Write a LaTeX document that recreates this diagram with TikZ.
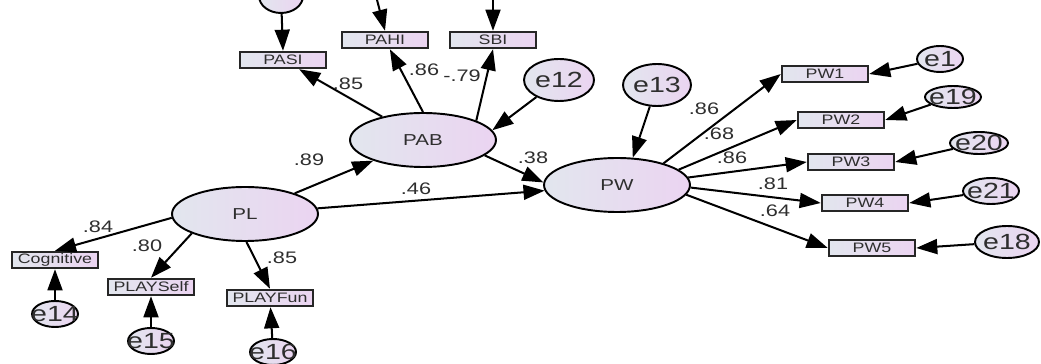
\documentclass[tikz,border=0pt]{standalone}
\usepackage{fontspec}
\setmainfont{Liberation Sans}[FakeStretch=1.3]
\usetikzlibrary{arrows.meta, shapes.geometric}

\definecolor{fillleft}{HTML}{E2E6EE}
\definecolor{fillright}{HTML}{EBD4F1}
\definecolor{labelgray}{HTML}{2E2E2E}
\newcommand\ztext[1]{\hbox to 0pt{\hss#1\hss}}

\begin{document}
\begin{tikzpicture}[x=0.02cm, y=-0.02cm,
    latent/.style={ellipse, draw, line width=1.1pt, left color=fillleft, right color=fillright, minimum width=2.92cm, minimum height=1.08cm, inner sep=0pt, text=labelgray, font=\fontsize{9}{10}\selectfont},
    indicator/.style={rectangle, draw=black!85, line width=1.4pt, left color=fillleft, right color=fillright, minimum width=1.72cm, minimum height=0.32cm, inner sep=0pt, text=labelgray, font=\fontsize{7.8}{8}\selectfont},
    residual/.style 2 args={ellipse, draw, line width=1.1pt, left color=fillleft, right color=fillright, minimum width=#1*0.04cm, minimum height=#2*0.04cm, inner sep=0pt, text=labelgray, font=\fontsize{12.5}{13}\selectfont},
    coef/.style={inner sep=0pt, text=labelgray, font=\fontsize{9.5}{10}\selectfont},
    load/.style={-{Triangle[length=12pt, width=8.5pt]}, line width=1.15pt}
  ]
  \useasboundingbox (0,0) rectangle (1041,364);
  \clip (0,0) rectangle (1041,364);

  % latent variables
  \node[latent] (PAB) at (423,140) {PAB};
  \node[latent] (PL) at (245,214) {PL};
  \node[latent] (PW) at (617,185) {PW};

  % observed variables
  \node[indicator] (PASI) at (283,60) {PASI};
  \node[indicator] (PAHI) at (385,40) {PAHI};
  \node[indicator] (SBI) at (493,40) {SBI};
  \node[indicator] (PW1) at (825,74) {PW1};
  \node[indicator] (PW2) at (841,120) {PW2};
  \node[indicator] (PW3) at (851,162) {PW3};
  \node[indicator] (PW4) at (865,203) {PW4};
  \node[indicator] (PW5) at (872,248) {PW5};
  \node[indicator] (Cognitive) at (55,260) {Cognitive};
  \node[indicator] (PLAYSelf) at (151,287) {PLAYSelf};
  \node[indicator] (PLAYFun) at (270,298) {PLAYFun};

  % error terms (the three on top are cut off by the frame)
  \node[residual={22}{17}] (ePASI) at (281,-4) {};
  \node[residual={22}{17}] (ePAHI) at (368,-35) {};
  \node[residual={22}{17}] (eSBI) at (493,-35) {};
  \node[residual={35}{21}] (e12) at (559,80) {\ztext{e12}};
  \node[residual={34}{21}] (e13) at (657,85) {\ztext{e13}};
  \node[residual={23}{13}] (e1) at (940,59) {\ztext{e1}};
  \node[residual={28}{11}] (e19) at (953,97) {\ztext{e19}};
  \node[residual={29}{10}] (e20) at (979,143) {\ztext{e20}};
  \node[residual={28}{13}] (e21) at (991,191) {\ztext{e21}};
  \node[residual={32}{16}] (e18) at (1007,242) {\ztext{e18}};
  \node[residual={23}{13}] (e14) at (55,314) {\ztext{e14}};
  \node[residual={23}{13}] (e15) at (151,341) {\ztext{e15}};
  \node[residual={23}{13}] (e16) at (273,352) {\ztext{e16}};

  % paths
  \draw[load] (PAB) -- (PASI);
  \draw[load] (PAB.north) -- (PAHI);
  \draw[load] (PAB.20) -- (SBI.south);
  \draw[load] (PL) -- (PAB);
  \draw[load] (PAB.-14) -- (PW.178);
  \draw[load] (PL) -- (PW);
  \draw[load] (e12) -- (PAB.8);
  \draw[load] (e13) -- (PW.60);
  \draw[load] (PW.25) -- (PW1.west);
  \draw[load] (PW.14) -- (PW2.west);
  \draw[load] (PW.6) -- (PW3.west);
  \draw[load] (PW.-2) -- (PW4.west);
  \draw[load] (PW.-8) -- (PW5.west);
  \draw[load] (PL.183) -- (Cognitive.north);
  \draw[load] (PL.200) -- (PLAYSelf.north);
  \draw[load] (PL.-87) -- (PLAYFun.north);

  \draw[load] (ePASI) -- (PASI.north);
  \draw[load] (ePAHI) -- (PAHI.north);
  \draw[load] (eSBI) -- (SBI.north);
  \draw[load] (e1) -- (PW1.east);
  \draw[load] (e19) -- (PW2.east);
  \draw[load] (e20) -- (PW3.east);
  \draw[load] (e21) -- (PW4.east);
  \draw[load] (e18) -- (PW5.east);
  \draw[load] (e14) -- (Cognitive);
  \draw[load] (e15) -- (PLAYSelf);
  \draw[load] (e16) -- (PLAYFun);

  % standardized estimates
  \node[coef] (cPASI) at (348,84) {.85};
  \node[coef] (cPAHI) at (424,70) {.86};
  \node[coef] (cSBI) at (462,76) {-.79};
  \node[coef] (cPLPAB) at (309,160) {.89};
  \node[coef] (cPABPW) at (533,158) {.38};
  \node[coef] (cPLPW) at (416,189) {.46};
  \node[coef] (cPW1) at (704,109) {.86};
  \node[coef] (cPW2) at (719,134) {.68};
  \node[coef] (cPW3) at (732,158) {.86};
  \node[coef] (cPW4) at (773,184) {.81};
  \node[coef] (cPW5) at (775,211) {.64};
  \node[coef] (cCog) at (98,227) {.84};
  \node[coef] (cSelf) at (147,246) {.80};
  \node[coef] (cFun) at (282,258) {.85};
\end{tikzpicture}
\end{document}
